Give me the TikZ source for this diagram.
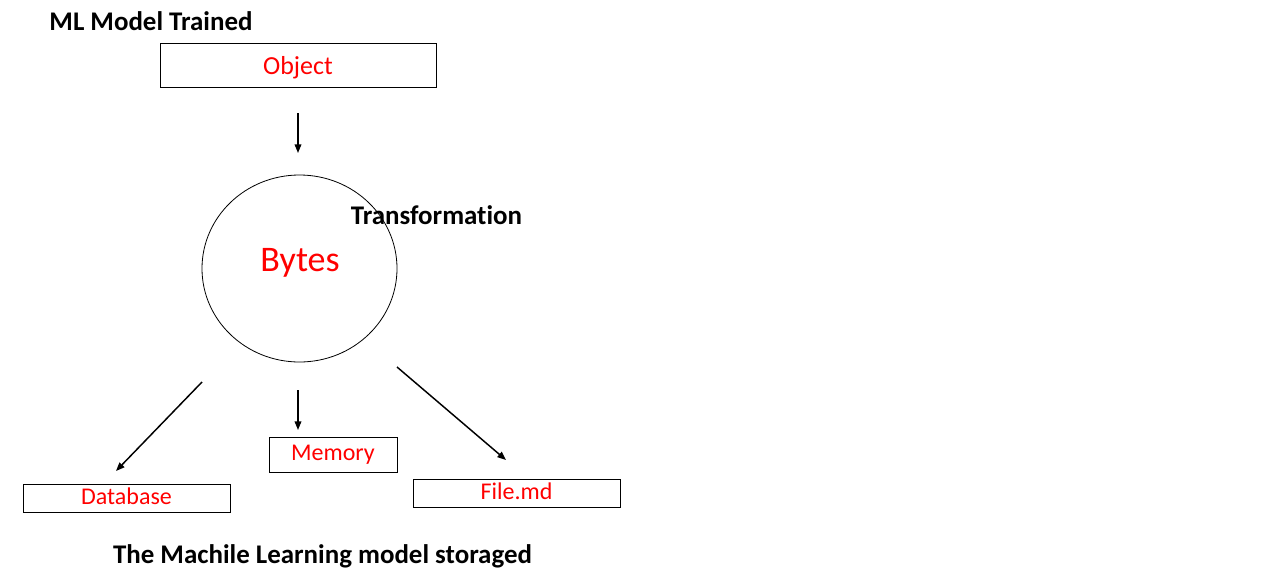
\documentclass[tikz,border=0pt]{standalone}
\usepackage{fontspec}
\setmainfont{Carlito}[Ligatures=CommonOff]
\usetikzlibrary{arrows.meta,shapes.geometric}
\definecolor{txtred}{RGB}{255,0,0}
\tikzset{
  box/.style={draw=black, line width=0.75pt, inner sep=0pt, text=txtred},
  heading/.style={font=\fontsize{20.2pt}{24pt}\selectfont\bfseries, inner sep=0pt, anchor=base},
  conn/.style={line width=1.1pt, -{Triangle[length=6.5pt,width=5pt]}},
}
\begin{document}
\begin{tikzpicture}[x=0.75pt,y=-0.75pt]
\useasboundingbox[fill=white] (0,0) rectangle (1280,582);
% headings
\node[heading] (title) at (151,30) {ML Model Trained};
\node[heading] (transf) at (436.5,224) {Transformation};
\node[heading] (bottom) at (322.5,563) {The Machile Learning model storaged};
% object box
\node[box, minimum width=207pt, text height=23.25pt, text depth=9.75pt, font=\fontsize{19.5pt}{23pt}\selectfont] (object) at (298,65) {Object};
% circle
\node[draw, ellipse, line width=0.6pt, minimum width=146.25pt, minimum height=140.25pt, inner sep=0pt] (circ) at (299.5,268.5) {};
\node[inner sep=0pt, anchor=base, text=txtred, font=\fontsize{27pt}{32pt}\selectfont] (bytes) at (300,271) {Bytes};
% storage boxes
\node[box, minimum width=96pt, text height=17.25pt, text depth=9pt, font=\fontsize{18pt}{21pt}\selectfont] (memory) at (333,454.5) {Memory};
\node[box, minimum width=155.25pt, text height=15pt, text depth=6pt, font=\fontsize{18pt}{21pt}\selectfont] (database) at (126.5,498) {Database};
\node[box, minimum width=155.25pt, text height=15pt, text depth=6pt, font=\fontsize{18pt}{21pt}\selectfont] (file) at (516.5,493) {File.md};
% arrow end points
\coordinate (a1s) at (298,113);
\coordinate (a1e) at (298,153);
\coordinate (a2s) at (202,382);
\coordinate (a2e) at (116,471);
\coordinate (a3s) at (298,390);
\coordinate (a3e) at (298,430);
\coordinate (a4s) at (397,367);
\coordinate (a4e) at (506,460);
\draw[conn] (a1s) -- (a1e);
\draw[conn] (a2s) -- (a2e);
\draw[conn] (a3s) -- (a3e);
\draw[conn] (a4s) -- (a4e);
\end{tikzpicture}
\end{document}
